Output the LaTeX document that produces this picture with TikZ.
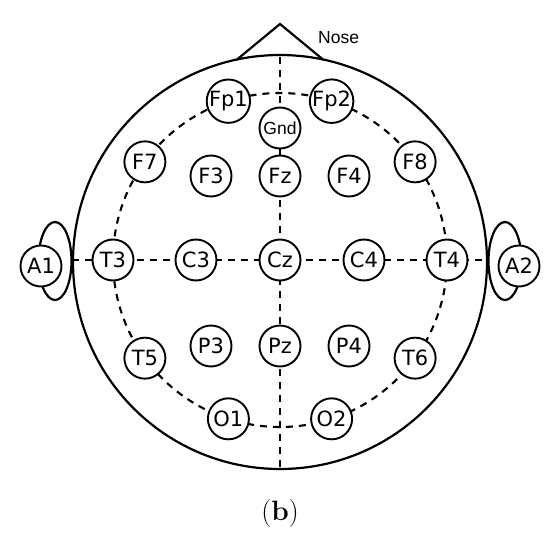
\documentclass[tikz,border=0pt]{standalone}
\usepackage{fontspec}
\newfontfamily\djv{DejaVu Sans}
\newfontfamily\lib{Liberation Sans}
\begin{document}
\begin{tikzpicture}[x=1pt,y=-1pt,
  electrode/.style={circle,draw,line width=1.9pt,fill=white,minimum size=41pt,inner sep=0pt,font=\djv\fontsize{21}{23}\selectfont},
  guide/.style={line width=2.1pt,dash pattern=on 7pt off 6pt},
  outline/.style={line width=2.2pt}]
\useasboundingbox[fill=white] (0,0) rectangle (550,536);
\coordinate (C) at (280,260);
\coordinate (H) at (280,262);
% guide lines
\draw[guide] (C) circle[radius=167pt];
\coordinate (HL) at (72,260);
\coordinate (HR) at (488,260);
\coordinate (HT) at (280,57);
\coordinate (HB) at (280,468);
\draw[guide] (HL) -- (HR);
\draw[guide] (HT) -- (HB);
% head
\draw[outline] (H) circle[radius=207pt];
% nose
\coordinate (NL) at ([shift={(102:207pt)}]H);
\coordinate (NR) at ([shift={(78:207pt)}]H);
\coordinate (NA) at (280,24);
\draw[outline,line join=miter] (NL) -- (NA) -- (NR);
\node[anchor=west,inner sep=0pt,font=\lib\fontsize{17.5}{19}\selectfont] (nose) at (318,38) {Nose};
% ears
\draw[outline] (55,261) ellipse[x radius=16.5pt,y radius=39pt];
\draw[outline] (505,261) ellipse[x radius=16.5pt,y radius=39pt];
% electrodes on the dashed circle
\node[electrode] (Fp1) at ([shift={(108:167pt)}]C) {Fp1};
\node[electrode] (Fp2) at ([shift={(72:167pt)}]C) {Fp2};
\node[electrode] (F7) at ([shift={(144:167pt)}]C) {F7};
\node[electrode] (F8) at ([shift={(36:167pt)}]C) {F8};
\node[electrode] (T3) at ([shift={(180:167pt)}]C) {T3};
\node[electrode] (T4) at ([shift={(0:167pt)}]C) {T4};
\node[electrode] (T5) at ([shift={(216:167pt)}]C) {T5};
\node[electrode] (T6) at ([shift={(324:167pt)}]C) {T6};
\node[electrode] (O1) at ([shift={(252:167pt)}]C) {O1};
\node[electrode] (O2) at ([shift={(288:167pt)}]C) {O2};
% inner electrodes
\node[electrode,font=\lib\fontsize{17.5}{19}\selectfont] (Gnd) at (280,128) {Gnd};
\node[electrode] (F3) at (211,176) {F3};
\node[electrode] (Fz) at (280,176) {Fz};
\node[electrode] (F4) at (349,176) {F4};
\node[electrode] (C3) at (196,260) {C3};
\node[electrode] (Cz) at (280,260) {Cz};
\node[electrode] (C4) at (364,260) {C4};
\node[electrode] (P3) at (211,346) {P3};
\node[electrode] (Pz) at (280,346) {Pz};
\node[electrode] (P4) at (349,346) {P4};
% reference electrodes
\node[electrode] (A1) at (41,266) {A1};
\node[electrode] (A2) at (519,266) {A2};
% caption
\node[font=\fontsize{28}{32}\selectfont] (cap) at (280,514) {(\textbf{b})};
\end{tikzpicture}
\end{document}
